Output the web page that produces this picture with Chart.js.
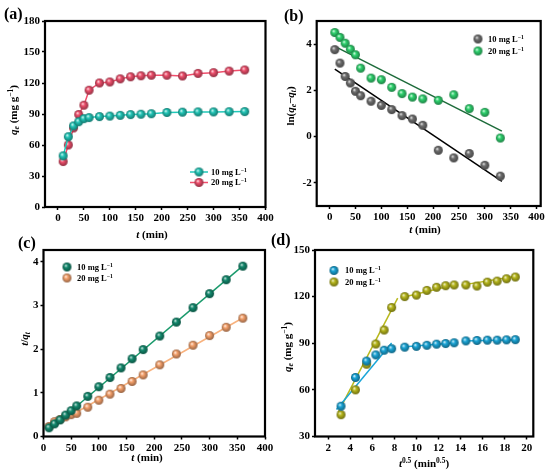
<!DOCTYPE html>
<html>
<head>
<meta charset="utf-8">
<script src="https://cdn.jsdelivr.net/npm/chart.js@4.4.1/dist/chart.umd.min.js"></script>
<style>
  html, body { margin: 0; padding: 0; background: #fff; }
  #wrap { position: relative; width: 550px; height: 471px; overflow: hidden; }
  #wrap canvas { position: absolute; left: 0; top: 0; }
</style>
</head>
<body>
<div id="wrap">
  <canvas id="pa" width="550" height="471"></canvas>
  <canvas id="pb" width="550" height="471"></canvas>
  <canvas id="pc" width="550" height="471"></canvas>
  <canvas id="pd" width="550" height="471"></canvas>
</div>
<script>
// ---- data ----
const tMin = [10, 20, 30, 40, 50, 60, 80, 100, 120, 140, 160, 180, 210, 240, 270, 300, 330, 360];
const qt10 = [49.5, 68, 78.5, 82.5, 85.5, 86.5, 87.5, 88, 88.7, 89.4, 89.8, 90.3, 91.5, 91.8, 92, 92, 92.2, 92.3];
const qt20 = [44, 60, 76.5, 89.5, 98.5, 113, 120, 121, 124, 126, 127, 127.5, 127.5, 126.8, 129.3, 130, 131.5, 132.6];

// (b) pseudo-first-order
const tB = [10, 20, 30, 40, 50, 60, 80, 100, 120, 140, 160, 180, 210, 240, 270, 300, 330];
const lnB10 = [3.76, 3.18, 2.6, 2.32, 1.96, 1.77, 1.53, 1.35, 1.17, 0.91, 0.76, 0.49, -0.59, -0.92, -0.73, -1.24, -1.71];
const lnB20 = [4.5, 4.29, 4.04, 3.78, 3.54, 2.96, 2.53, 2.46, 2.13, 1.86, 1.71, 1.63, 1.57, 1.81, 1.21, 1.05, -0.06];
const fitB10 = [[10, 2.92], [333, -1.93]];
const fitB20 = [[10, 3.9], [333, 0.24]];

// (c) pseudo-second-order
const tq10 = [0.2, 0.29, 0.38, 0.49, 0.59, 0.7, 0.92, 1.14, 1.35, 1.57, 1.78, 1.99, 2.3, 2.62, 2.95, 3.27, 3.59, 3.9];
const tq20 = [0.23, 0.34, 0.39, 0.45, 0.5, 0.53, 0.67, 0.83, 0.97, 1.1, 1.26, 1.41, 1.64, 1.89, 2.09, 2.31, 2.5, 2.71];
const fitC10 = [[10, 0.16], [362, 3.93]];
const fitC20 = [[10, 0.2], [362, 2.73]];

// (d) intraparticle diffusion
const tHalf = [3.16, 4.47, 5.48, 6.32, 7.07, 7.75, 8.94, 10, 10.95, 11.83, 12.65, 13.42, 14.49, 15.49, 16.43, 17.32, 18.17, 18.97];
const fitD10 = [[[2.75, 47.4], [7.75, 90.2]], [[8.7, 87.6], [13.6, 90.4]], [[14.2, 91.5], [19.2, 92.2]]];
const fitD20 = [[[2.9, 45.5], [8.3, 119]], [[8.6, 119.3], [13.6, 127.8]], [[14.1, 127.4], [19.3, 133.4]]];

// tick labels
const ticksT = [0, 50, 100, 150, 200, 250, 300, 350, 400];
const ticksQa = [0, 30, 60, 90, 120, 150, 180];
const ticksLn = [-2, 0, 2, 4];
const ticksTq = [0, 1, 2, 3, 4];
const ticksHalf = [2, 4, 6, 8, 10, 12, 14, 16, 18, 20];
const ticksQd = [30, 60, 90, 120, 150];

const seriesLabels = ['10 mg L', '20 mg L'];

// ---- helpers ----
const FONT = '"Liberation Serif", "Times New Roman", serif';

function mix(hex, to, k) {
  const a = parseInt(hex.slice(1), 16), b = parseInt(to.slice(1), 16);
  const ch = (v, s) => (v >> s) & 255;
  const r = [16, 8, 0].map(s => Math.round(ch(a, s) + (ch(b, s) - ch(a, s)) * k));
  return 'rgb(' + r.join(',') + ')';
}

function sphere(base, r) {
  const c = document.createElement('canvas');
  const s = Math.ceil(2 * r + 2);
  c.width = c.height = s;
  const g = c.getContext('2d'), m = s / 2;
  const gr = g.createRadialGradient(m - r * 0.3, m - r * 0.35, r * 0.05, m, m, r);
  gr.addColorStop(0, mix(base, '#ffffff', 0.85));
  gr.addColorStop(0.35, base);
  gr.addColorStop(1, mix(base, '#000000', 0.4));
  g.fillStyle = gr;
  g.beginPath(); g.arc(m, m, r, 0, Math.PI * 2); g.fill();
  return c;
}

// parts: [text, flags]  i = italic, s = subscript, p = superscript
function rich(ctx, parts, x, y, size, opts = {}) {
  ctx.save();
  ctx.translate(x, y);
  if (opts.rot) ctx.rotate(opts.rot);
  const f = fl => (fl.includes('i') ? 'italic ' : '') + 'bold ' +
    (fl.includes('s') || fl.includes('p') ? size * 0.68 : size) + 'px ' + FONT;
  let w = 0;
  parts.forEach(([t, fl = '']) => { ctx.font = f(fl); w += ctx.measureText(t).width; });
  let cx = opts.left ? 0 : -w / 2;
  ctx.fillStyle = '#000';
  ctx.textBaseline = 'alphabetic';
  parts.forEach(([t, fl = '']) => {
    ctx.font = f(fl);
    const dy = fl.includes('s') ? size * 0.22 : fl.includes('p') ? -size * 0.38 : 0;
    ctx.fillText(t, cx, dy + size * 0.34);
    cx += ctx.measureText(t).width;
  });
  ctx.restore();
}

function axis(pos, min, max, ticks) {
  return {
    type: 'linear', position: pos, min, max,
    afterBuildTicks: s => { s.ticks = ticks.map(v => ({ value: v })); },
    afterFit: s => { if (pos === 'left') s.width = 40; else s.height = 30; },
    ticks: {
      color: '#000', padding: 2, autoSkip: false, maxRotation: 0,
      font: { family: FONT, size: 11, weight: 'bold' }
    },
    grid: { drawOnChartArea: false, drawTicks: true, tickLength: 3, tickWidth: 1.5, tickColor: '#000' },
    border: { display: false }
  };
}

const pts = (xs, ys) => xs.map((x, i) => ({ x, y: ys[i] }));
const seg = arr => arr.map(([x, y]) => ({ x, y }));

function scatterSet(data, img, extra = {}) {
  return Object.assign({ data, pointStyle: img, pointRadius: 4.5, showLine: false, order: 1 }, extra);
}
function lineSet(data, color) {
  return { data, showLine: true, borderColor: color, borderWidth: 1.5, pointRadius: 0, order: 2 };
}

function panel(id, area, xs, ys, datasets, deco) {
  const [L, T, R, B] = area;
  new Chart(document.getElementById(id), {
    type: 'scatter',
    data: { datasets },
    options: {
      responsive: false, animation: false, events: [],
      layout: { padding: { left: L - 40, top: T, right: 550 - R, bottom: 471 - B - 30 } },
      scales: { x: xs, y: ys },
      plugins: { legend: { display: false }, tooltip: { enabled: false } }
    },
    plugins: [{
      id: 'deco_' + id,
      afterDraw: c => {
        const ctx = c.ctx, a = c.chartArea;
        ctx.save();
        ctx.lineWidth = 2.2;
        ctx.strokeStyle = '#000';
        ctx.strokeRect(a.left, a.top, a.right - a.left, a.bottom - a.top);
        ctx.restore();
        deco(ctx);
      }
    }]
  });
}

function letter(ctx, txt, x, y) {
  ctx.save();
  ctx.font = 'bold 16px ' + FONT;
  ctx.fillStyle = '#000';
  ctx.fillText(txt, x, y);
  ctx.restore();
}

function legendRow(ctx, img, x, y, tx, label, lineColor) {
  if (lineColor) {
    ctx.save();
    ctx.strokeStyle = lineColor; ctx.lineWidth = 1.5;
    ctx.beginPath(); ctx.moveTo(x - 9, y); ctx.lineTo(x + 9, y); ctx.stroke();
    ctx.restore();
  }
  ctx.drawImage(img, x - img.width / 2, y - img.height / 2);
  rich(ctx, [[label], ['\u22121', 'p']], tx, y, 8.5, { left: true });
}

const qeTitle = [['q', 'i'], ['e', 'is'], [' (mg g'], ['\u22121', 'p'], [')']];
const tTitle = [['t', 'i'], [' (min)']];

// ---- (a) ----
const sA10 = sphere('#22c7b8', 4.5), sA20 = sphere('#ef4f6c', 4.5);
panel('pa', [45, 21, 265.5, 207],
  axis('bottom', -25, 400, ticksT), axis('left', 0, 180, ticksQa),
  [
    scatterSet(pts(tMin, qt10), sA10, { showLine: true, borderColor: '#22c7b8', borderWidth: 1.5 }),
    scatterSet(pts(tMin, qt20), sA20, { showLine: true, borderColor: '#ef4f6c', borderWidth: 1.5 })
  ],
  ctx => {
    letter(ctx, '(a)', 4, 19);
    rich(ctx, qeTitle, 13, 110, 11, { rot: -Math.PI / 2 });
    rich(ctx, tTitle, 152, 234, 11);
    legendRow(ctx, sA10, 199, 172, 211, seriesLabels[0], '#22c7b8');
    legendRow(ctx, sA20, 199, 182.5, 211, seriesLabels[1], '#ef4f6c');
  });

// ---- (b) ----
const sB10 = sphere('#707070', 4.5), sB20 = sphere('#2fd46f', 4.5);
panel('pb', [316.7, 21, 540.7, 206],
  axis('bottom', -25, 408, ticksT), axis('left', -3, 5, ticksLn),
  [
    lineSet(seg(fitB10), '#000000'),
    lineSet(seg(fitB20), '#1d6b3a'),
    scatterSet(pts(tB, lnB10), sB10),
    scatterSet(pts(tB, lnB20), sB20)
  ],
  ctx => {
    letter(ctx, '(b)', 284, 21);
    rich(ctx, [['ln('], ['q', 'i'], ['e', 'is'], ['\u2212'], ['q', 'i'], ['t', 'is'], [')']], 290, 106, 11, { rot: -Math.PI / 2 });
    rich(ctx, tTitle, 425, 229, 11);
    legendRow(ctx, sB10, 478, 39, 488, seriesLabels[0]);
    legendRow(ctx, sB20, 478, 51, 488, seriesLabels[1]);
  });

// ---- (c) ----
const sC10 = sphere('#138a6e', 4.5), sC20 = sphere('#f7a26c', 4.5);
panel('pc', [43.5, 250, 265, 436.5],
  axis('bottom', 0, 400, ticksT), axis('left', 0, 4.27, ticksTq),
  [
    lineSet(seg(fitC10), '#1a9a6c'),
    lineSet(seg(fitC20), '#f8b27e'),
    scatterSet(pts(tMin, tq10), sC10),
    scatterSet(pts(tMin, tq20), sC20)
  ],
  ctx => {
    letter(ctx, '(c)', 18, 248);
    rich(ctx, [['t', 'i'], ['/'], ['q', 'i'], ['t', 'is']], 24, 339, 11, { rot: -Math.PI / 2 });
    rich(ctx, tTitle, 147, 457, 11);
    legendRow(ctx, sC10, 67, 267, 77, seriesLabels[0]);
    legendRow(ctx, sC20, 67, 278, 77, seriesLabels[1]);
  });

// ---- (d) ----
const sD10 = sphere('#1ba6d8', 4.5), sD20 = sphere('#b8b81c', 4.5);
panel('pd', [315, 250, 533.3, 436.5],
  axis('bottom', 0.8, 20.6, ticksHalf), axis('left', 30, 150, ticksQd),
  [
    ...fitD10.map(s => lineSet(seg(s), '#1ba6d8')),
    ...fitD20.map(s => lineSet(seg(s), '#b8b81c')),
    scatterSet(pts(tHalf, qt10), sD10),
    scatterSet(pts(tHalf, qt20), sD20)
  ],
  ctx => {
    letter(ctx, '(d)', 271, 245);
    rich(ctx, qeTitle, 287, 347, 11, { rot: -Math.PI / 2 });
    rich(ctx, [['t', 'i'], ['0.5', 'p'], [' (min'], ['0.5', 'p'], [')']], 424, 463, 11);
    legendRow(ctx, sD10, 334, 270.5, 345, seriesLabels[0]);
    legendRow(ctx, sD20, 334, 282, 345, seriesLabels[1]);
  });
</script>
</body>
</html>
